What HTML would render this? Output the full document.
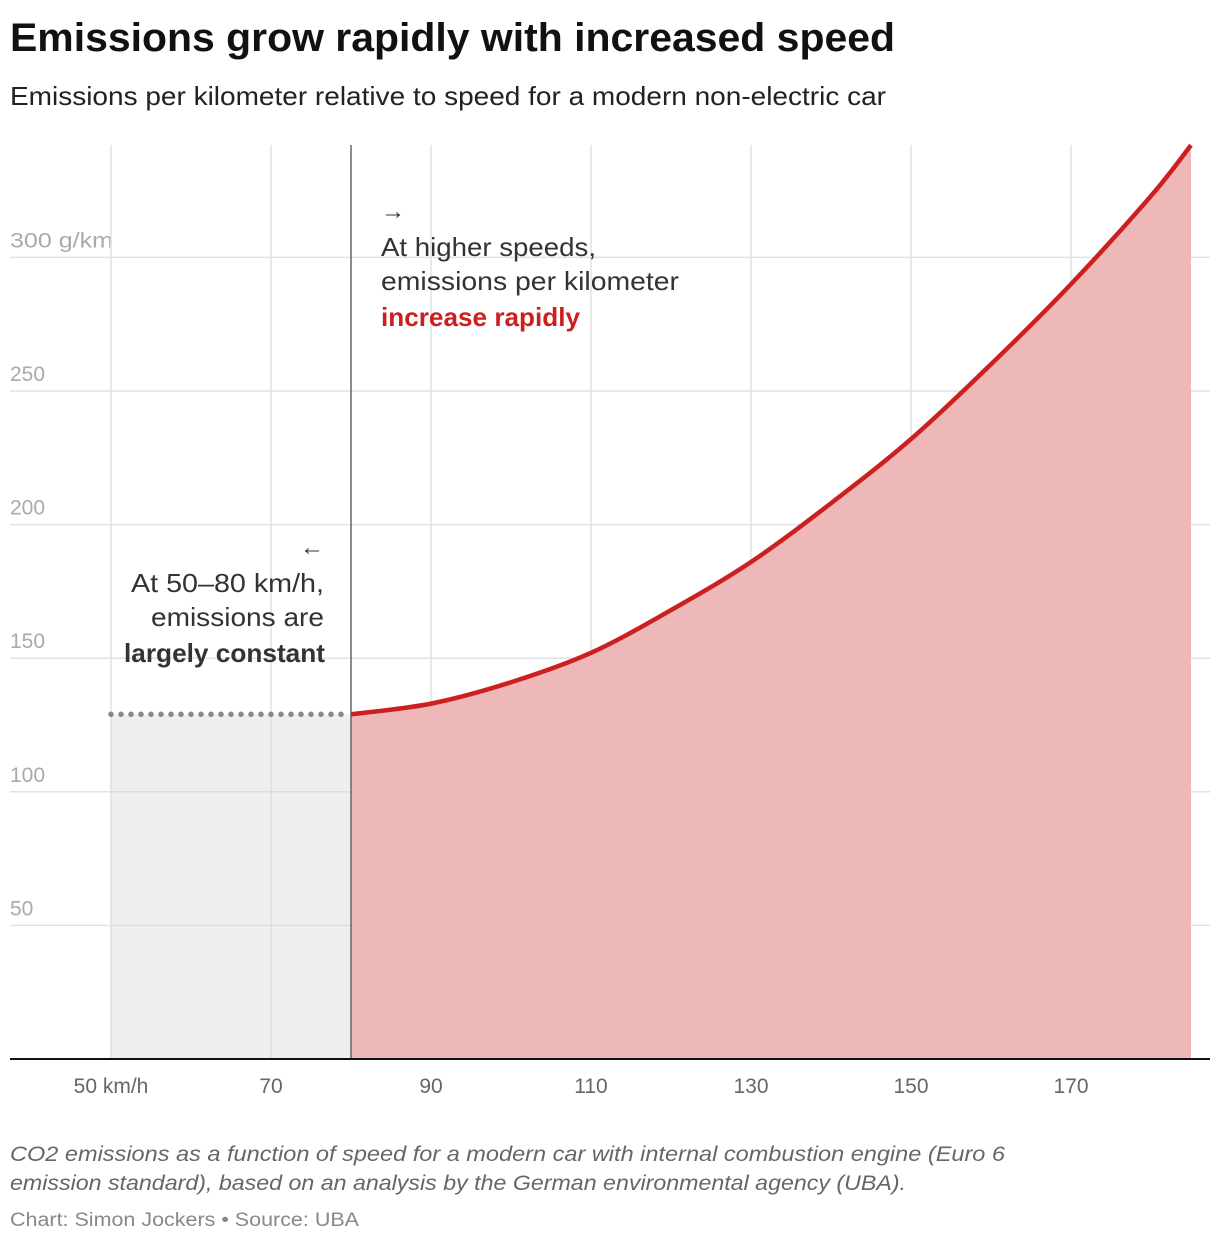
<!DOCTYPE html>
<html><head><meta charset="utf-8">
<style>
body{margin:0;background:#fff;width:1220px;height:1242px;overflow:hidden;font-family:"Liberation Sans",sans-serif}
</style></head>
<body>
<svg id="c" width="1220" height="1242" xmlns="http://www.w3.org/2000/svg" font-family="Liberation Sans, sans-serif">
<text x="10" y="51" font-size="40" font-weight="bold" fill="#111" textLength="885" lengthAdjust="spacingAndGlyphs">Emissions grow rapidly with increased speed</text>
<text x="10" y="105" font-size="26" fill="#222" textLength="876" lengthAdjust="spacingAndGlyphs">Emissions per kilometer relative to speed for a modern non-electric car</text>
<g id="grid"></g>
<g id="marks"></g>
<g id="ann">
<text x="381" y="219" font-size="24" fill="#333">→</text>
<text x="381" y="256" font-size="26" fill="#333" textLength="215" lengthAdjust="spacingAndGlyphs">At higher speeds,</text>
<text x="381" y="290" font-size="26" fill="#333" textLength="298" lengthAdjust="spacingAndGlyphs">emissions per kilometer</text>
<text x="381" y="326" font-size="26" font-weight="bold" fill="#cc1f1f" textLength="199" lengthAdjust="spacingAndGlyphs">increase rapidly</text>
<text x="324" y="555" font-size="24" fill="#333" text-anchor="end">←</text>
<text x="131" y="592" font-size="26" fill="#333" textLength="193" lengthAdjust="spacingAndGlyphs">At 50–80 km/h,</text>
<text x="151" y="626" font-size="26" fill="#333" textLength="173" lengthAdjust="spacingAndGlyphs">emissions are</text>
<text x="124" y="662" font-size="26" font-weight="bold" fill="#333" textLength="201" lengthAdjust="spacingAndGlyphs">largely constant</text>
</g>
<text x="10" y="1161" font-size="21" font-style="italic" fill="#666" textLength="995" lengthAdjust="spacingAndGlyphs">CO2 emissions as a function of speed for a modern car with internal combustion engine (Euro 6</text>
<text x="10" y="1190" font-size="21" font-style="italic" fill="#666" textLength="896" lengthAdjust="spacingAndGlyphs">emission standard), based on an analysis by the German environmental agency (UBA).</text>
<text x="10" y="1226" font-size="19" fill="#888" textLength="349" lengthAdjust="spacingAndGlyphs">Chart: Simon Jockers • Source: UBA</text>
</svg>
<script>
const speeds=[80,90,100,110,120,130,140,150,160,170,180,185];
const emissions=[129,133,141,152,168,186,208,232,260,290,323,342];
const constValue=129;
const xTicks=[50,70,90,110,130,150,170];
const xTickLabels=["50 km/h","70","90","110","130","150","170"];
const yTicks=[50,100,150,200,250,300];
const yTickLabels=["50","100","150","200","250","300 g/km"];
const NS="http://www.w3.org/2000/svg";
const X=v=>111+(v-50)*8;
const Y=v=>1059-v*2.672;
function mk(p,t,a){const e=document.createElementNS(NS,t);for(const k in a)e.setAttribute(k,a[k]);p.appendChild(e);return e;}
const g=document.getElementById('grid'),m=document.getElementById('marks');
yTicks.forEach((v,i)=>{
 const l=mk(g,'line',{x1:10,x2:1210,y1:Y(v),y2:Y(v),stroke:'#e2e2e2','stroke-width':1.5});
 
 
 const t=mk(g,'text',{x:10,y:Y(v)-10,'font-size':21,fill:'#aaa'});t.textContent=yTickLabels[i];
 if(i===yTicks.length-1){t.setAttribute('textLength',103);t.setAttribute('lengthAdjust','spacingAndGlyphs');}
 
 
});
xTicks.forEach((v,i)=>{
 const l=mk(g,'line',{x1:X(v),x2:X(v),y1:145,y2:1059,stroke:'#e2e2e2','stroke-width':1.5});
 
 
 const t=mk(g,'text',{x:X(v),y:1093,'font-size':21,fill:'#666','text-anchor':'middle'});t.textContent=xTickLabels[i];
 
 
});
const ga=mk(m,'rect',{x:X(50),y:Y(constValue),width:X(80)-X(50),height:1059-Y(constValue),fill:'#d8d8d8','fill-opacity':0.4});


function smooth(){let p=speeds.map((s,i)=>[X(s),Y(emissions[i])]);let s='M'+p[0].join(',');
for(let i=0;i<p.length-1;i++){const p0=p[i-1]||p[i],p1=p[i],p2=p[i+1],p3=p[i+2]||p2;
s+=` C${p1[0]+(p2[0]-p0[0])/6},${p1[1]+(p2[1]-p0[1])/6} ${p2[0]-(p3[0]-p1[0])/6},${p2[1]-(p3[1]-p1[1])/6} ${p2[0]},${p2[1]}`;}return s;}
const d=smooth();
const area=mk(m,'path',{d:d+` L${X(speeds[speeds.length-1])},1059 L${X(speeds[0])},1059 Z`,fill:'#eeb8b8'});


const vl=mk(m,'line',{x1:X(80),x2:X(80),y1:145,y2:1059,stroke:'#666','stroke-width':1.5});


const dl=mk(m,'line',{x1:X(50),x2:X(80)-4,y1:Y(constValue),y2:Y(constValue),stroke:'#888','stroke-width':5.5,'stroke-linecap':'round','stroke-dasharray':'0 10'});


const line=mk(m,'path',{d:d,fill:'none',stroke:'#cc1f1f','stroke-width':4.5});


const ax=mk(m,'line',{x1:10,x2:1210,y1:1059,y2:1059,stroke:'#111','stroke-width':2});


</script>
</body></html>
